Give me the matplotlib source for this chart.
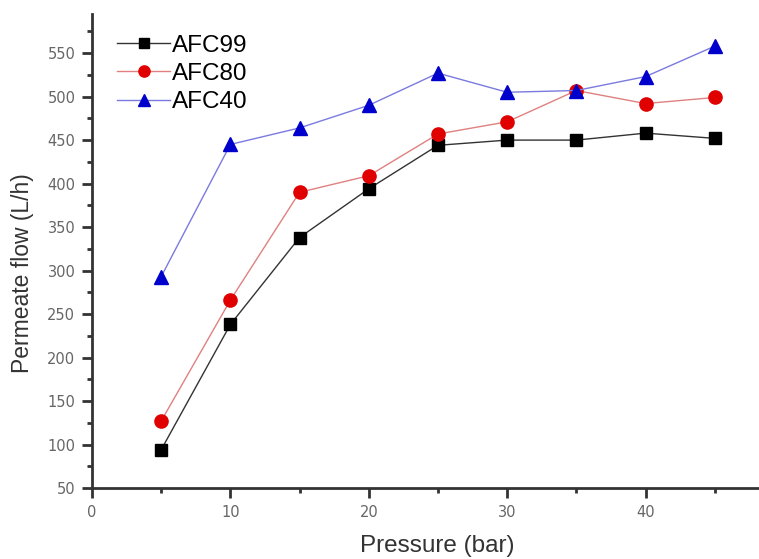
import matplotlib.pyplot as plt
from matplotlib.ticker import MultipleLocator

pressure = [5, 10, 15, 20, 25, 30, 35, 40, 45]
afc99 = [94, 238, 338, 394, 444, 450, 450, 458, 452]
afc80 = [127, 266, 390, 409, 457, 471, 507, 492, 499]
afc40 = [293, 445, 464, 490, 527, 505, 507, 523, 558]

plt.rcParams['font.family'] = ['Liberation Sans', 'DejaVu Sans']

fig = plt.figure(figsize=(7.59, 5.59), dpi=100)
ax = fig.add_axes([0.1212, 0.127, 0.8788, 0.848])

ax.plot(pressure, afc99, color='#333333', lw=1, marker='s', ms=8,
        mfc='black', mec='black', label='AFC99')
ax.plot(pressure, afc80, color='#e08080', lw=1, marker='o', ms=9.5,
        mfc='#e00000', mec='#e00000', label='AFC80')
ax.plot(pressure, afc40, color='#7a7ae0', lw=1, marker='^', ms=10,
        mfc='#0000cc', mec='#0000cc', label='AFC40')

ax.set_xlim(0, 48.2)
ax.set_ylim(50, 595)
ax.xaxis.set_major_locator(MultipleLocator(10))
ax.xaxis.set_minor_locator(MultipleLocator(5))
ax.yaxis.set_major_locator(MultipleLocator(50))
ax.yaxis.set_minor_locator(MultipleLocator(25))

for s in ['top', 'right']:
    ax.spines[s].set_visible(False)
for s in ['left', 'bottom']:
    ax.spines[s].set_linewidth(2)
    ax.spines[s].set_color('#333333')

ax.tick_params(which='major', direction='out', length=7, width=2, pad=5,
               color='#333333', labelsize=10.5, labelcolor='#666666')
ax.tick_params(which='minor', direction='out', length=3.5, width=2,
               color='#333333')
for lbl in ax.get_xticklabels() + ax.get_yticklabels():
    lbl.set_family('DejaVu Sans')

ax.set_xlabel('Pressure (bar)', fontsize=17.5, color='#333333', va='center')
ax.xaxis.set_label_coords(0.517, -0.123)
ax.set_ylabel('Permeate flow (L/h)', fontsize=16.5, color='#333333', va='center')
ax.yaxis.set_label_coords(-0.104, 0.454)

ax.legend(loc='upper left', bbox_to_anchor=(0.0375, 0.956), frameon=False,
          borderaxespad=0, borderpad=0, fontsize=17.5, handlelength=2.2,
          handletextpad=0.05, labelspacing=0.25, markerscale=0.85)

fig.savefig('out.png', dpi=100)
